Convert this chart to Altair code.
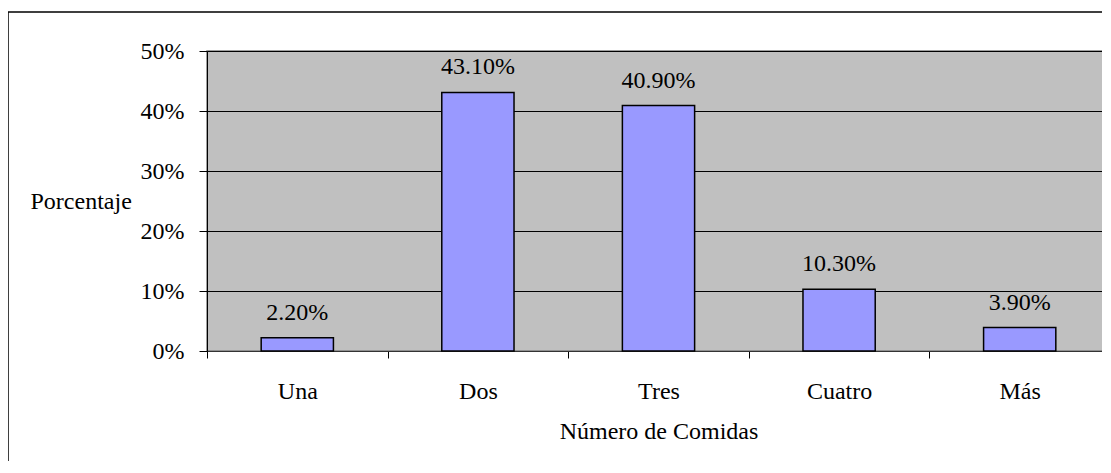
import altair as alt
import pandas as pd

categories = ["Una", "Dos", "Tres", "Cuatro", "Más"]
values = [0.022, 0.431, 0.409, 0.103, 0.039]
y_ticks = [0, 0.1, 0.2, 0.3, 0.4, 0.5]

df = pd.DataFrame({"cat": categories, "val": values})

FONT = "'Liberation Serif', 'Times New Roman', 'DejaVu Serif', serif"
FS = 24
W, H = 903, 300

x_enc = alt.X(
    "cat:N",
    sort=categories,
    scale=alt.Scale(paddingInner=0, paddingOuter=0),
    axis=alt.Axis(
        title="Número de Comidas",
        labelAngle=0,
        tickBand="extent",
        tickSize=7,
        tickColor="#000000",
        domainColor="#333333",
        labelBaseline="alphabetic",
        labelPadding=40,
        titleBaseline="alphabetic",
        titleY=87,
        grid=False,
    ),
)
y_enc = alt.Y(
    "val:Q",
    scale=alt.Scale(domain=[0, 0.5], nice=False),
    axis=alt.Axis(
        title="Porcentaje",
        values=y_ticks,
        format=".0%",
        tickSize=8,
        tickColor="#000000",
        domainColor="#000000",
        labelPadding=15,
        titleAngle=0,
        titleAlign="left",
        titleBaseline="alphabetic",
        titleX=-177,
        titleY=157,
        grid=True,
        gridColor="#000000",
        gridWidth=1,
    ),
)

border = alt.Chart(pd.DataFrame({"a": [0]})).mark_rect(
    fill=None, stroke="#000000", strokeWidth=1.5, clip=False
).encode(
    x=alt.value(-199), x2=alt.value(920), y=alt.value(-39), y2=alt.value(440)
)

bars = alt.Chart(df).mark_bar(
    width=alt.RelativeBandSize(0.4),
    color="#9999FF",
    stroke="#000000",
    strokeWidth=1.5,
).encode(x=x_enc, y=y_enc)

labels = alt.Chart(df).mark_text(
    baseline="alphabetic", dy=-18, font=FONT, fontSize=FS, color="#000000"
).encode(
    x=alt.X("cat:N", sort=categories),
    y="val:Q",
    text=alt.Text("val:Q", format=".2%"),
)

chart = alt.layer(bars, labels, border).properties(
    width=W,
    height=H,
    autosize=alt.AutoSizeParams(type="none"),
    padding={"left": 199, "top": 43, "right": -8, "bottom": 110},
    background="#FFFFFF",
).configure_view(
    fill="#C0C0C0", stroke="#808080", strokeWidth=1.5
).configure_axis(
    labelFont=FONT, labelFontSize=FS, labelColor="#000000",
    titleFont=FONT, titleFontSize=FS, titleColor="#000000", titleFontWeight="normal",
)

chart.save("out.html", embed_options={"renderer": "svg", "actions": False})
